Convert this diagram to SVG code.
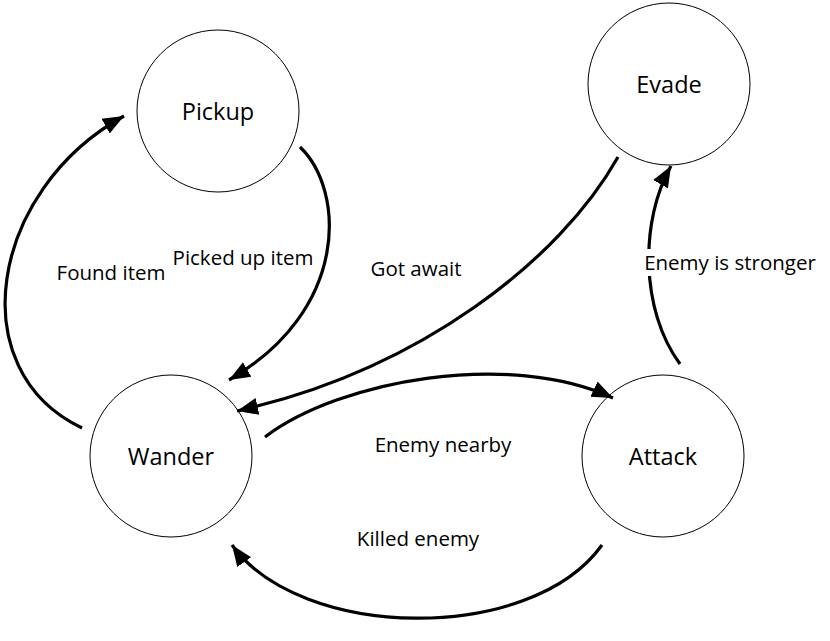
<svg xmlns="http://www.w3.org/2000/svg" width="830" height="641" viewBox="0 0 830 641">
<style>
.node circle{fill:#fff;stroke:#000;stroke-width:1}
.node text{font-family:"Open Sans","Noto Sans",sans-serif;font-size:23.5px;fill:#000;text-anchor:middle;dominant-baseline:central}
.edge{fill:none;stroke:#000;stroke-width:3.2;marker-end:url(#arr)}
.lbl{font-family:"Open Sans","Noto Sans",sans-serif;font-size:20.5px;fill:#000;text-anchor:middle;dominant-baseline:central}
</style>
<defs>
<marker id="arr" markerUnits="userSpaceOnUse" markerWidth="24" markerHeight="22" viewBox="0 0 24 22" refX="21" refY="11" orient="auto">
<path d="M0,2.5 L21,11 L0,19.5 Z" fill="#000"/>
</marker>
</defs>
<rect width="830" height="641" fill="#fff"/>
<g id="pickup" class="node"><circle cx="218" cy="111" r="81"/><text x="218" y="111">Pickup</text></g>
<g id="evade" class="node"><circle cx="669" cy="84" r="81"/><text x="669" y="84">Evade</text></g>
<g id="wander" class="node"><circle cx="171" cy="456" r="81"/><text x="171" y="456">Wander</text></g>
<g id="attack" class="node"><circle cx="663" cy="456" r="81"/><text x="663" y="456">Attack</text></g>
<g id="connectors">
<path class="edge" d="M82,428 C-40,370 -10,190 124,116"/>
<path class="edge" d="M300,147 C345,190 350,310 229,380"/>
<path class="edge" d="M618,157 C560,260 420,370 237,411"/>
<path class="edge" d="M265,437 C340,380 510,350 613,398"/>
<path class="edge" d="M602,545 C530,645 300,640 232,545"/>
<path class="edge" d="M680,364 C640,310 640,220 671,166"/>
</g>
<g id="labels">
<text class="lbl" x="111" y="272">Found item</text>
<text class="lbl" x="243" y="257">Picked up item</text>
<text class="lbl" x="416" y="268">Got await</text>
<rect x="642" y="249" width="178" height="27" fill="#fff"/>
<text class="lbl" x="730" y="262">Enemy is stronger</text>
<text class="lbl" x="443" y="444">Enemy nearby</text>
<text class="lbl" x="418" y="538">Killed enemy</text>
</g>
</svg>
